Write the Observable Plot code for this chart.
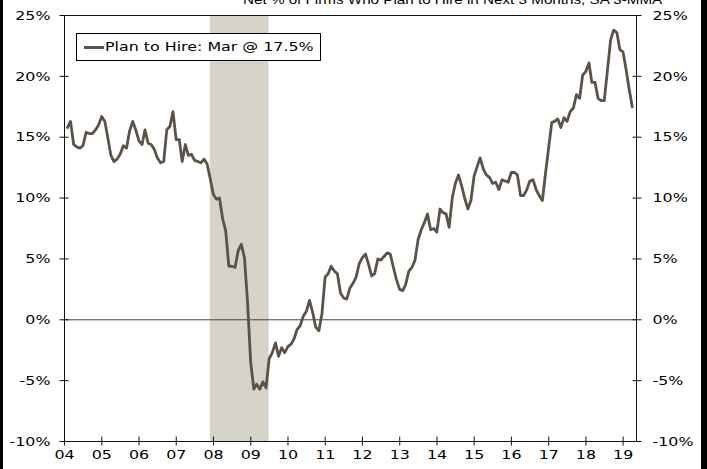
<!DOCTYPE html>
<html><head><meta charset="utf-8">
<script src="https://cdn.jsdelivr.net/npm/d3@7"></script>
<script src="https://cdn.jsdelivr.net/npm/@observablehq/plot@0.6"></script>
<style>
body{margin:0;background:#fff;}
#wrap{position:relative;width:707px;height:469px;overflow:hidden;background:#fff;font-family:"DejaVu Sans",Verdana,sans-serif;}
#chart{position:absolute;left:0;top:0;}
#title{position:absolute;left:243px;top:-8px;font-family:"Liberation Sans",Arial,sans-serif;font-size:13px;line-height:15px;color:#000;white-space:nowrap;transform:scaleX(1.17);transform-origin:0 0;}
#legend{position:absolute;left:76px;top:33px;width:243px;height:26px;border:1px solid #000;background:#fff;}
#legend .sw{position:absolute;left:7px;top:12px;width:20px;height:3px;background:#5d5247;}
#legend .tx{position:absolute;left:28px;top:4px;font-size:13px;line-height:18px;color:#000;white-space:nowrap;transform:scaleX(1.22);transform-origin:0 0;}
.bl{position:absolute;top:0;bottom:0;left:0;width:3px;background:#000;}
.br{position:absolute;top:0;bottom:0;right:0;width:6px;background:#000;}
</style></head>
<body>
<div id="wrap">
  <div id="chart"></div>
  <div id="title"></div>
  <div id="legend"><div class="sw"></div><div class="tx"></div></div>
  <div class="bl"></div><div class="br"></div>
</div>
<script>
const titleText = "Net % of Firms Who Plan to Hire in Next 3 Months, SA 3-MMA";
const legendText = "Plan to Hire: Mar @ 17.5%";
// Monthly, Jan 2004 .. Mar 2019 (net %, SA, 3-month moving average)
const planToHire = [
  15.8, 16.3, 14.4, 14.2, 14.1, 14.3, 15.4, 15.3, 15.3, 15.6, 16.0, 16.7, // 2004
  16.3, 15.0, 13.5, 13.0, 13.2, 13.6, 14.3, 14.1, 15.5, 16.3, 15.6, 14.7, // 2005
  14.4, 15.6, 14.5, 14.4, 14.0, 13.3, 12.9, 13.0, 15.6, 15.9, 17.1, 14.8, // 2006
  14.8, 13.0, 14.4, 13.5, 13.6, 13.1, 13.0, 12.9, 13.2, 12.8, 11.6, 10.3, // 2007
  9.9, 10.0, 8.3, 7.3, 4.4, 4.4, 4.3, 5.7, 6.2, 5.1, 1.5, -3.5,            // 2008
  -5.7, -5.3, -5.7, -5.1, -5.6, -3.2, -2.7, -1.9, -3.0, -2.3, -2.7, -2.2,  // 2009
  -2.0, -1.6, -0.8, -0.5, 0.3, 0.7, 1.6, 0.6, -0.6, -0.9, 0.5, 3.5,       // 2010
  3.8, 4.4, 4.0, 3.8, 2.2, 1.8, 1.7, 2.6, 3.0, 3.5, 4.6, 5.1,             // 2011
  5.4, 4.6, 3.6, 3.8, 5.0, 4.9, 5.2, 5.5, 5.4, 4.3, 3.3, 2.5,             // 2012
  2.4, 2.9, 4.0, 4.3, 4.9, 6.6, 7.4, 8.0, 8.7, 7.4, 7.5, 7.2,             // 2013
  9.1, 8.8, 8.7, 7.6, 10.0, 11.2, 11.9, 11.0, 10.0, 9.1, 9.8, 11.8,       // 2014
  12.6, 13.3, 12.4, 11.9, 11.7, 11.2, 11.3, 10.7, 11.5, 11.4, 11.3, 12.1, // 2015
  12.1, 11.9, 10.2, 10.2, 10.7, 11.4, 11.5, 10.7, 10.2, 9.8, 12.0, 14.1,  // 2016
  16.2, 16.3, 16.5, 15.8, 16.6, 16.3, 17.1, 17.4, 18.5, 18.2, 20.1, 20.4, // 2017
  21.1, 19.5, 19.5, 18.2, 18.0, 18.0, 20.5, 23.0, 23.8, 23.6, 22.2, 22.0, // 2018
  20.5, 19.0, 17.5                                                        // 2019
];
const recessionStart = ["2007-12-01"];
const recessionEnd = ["2009-06-30"];
const yTicks = [-10, -5, 0, 5, 10, 15, 20, 25];
const yDomain = [-10, 25];
const xTickYears = [2004, 2005, 2006, 2007, 2008, 2009, 2010, 2011, 2012, 2013, 2014, 2015, 2016, 2017, 2018, 2019];
const xTickLabels = ["04","05","06","07","08","09","10","11","12","13","14","15","16","17","18","19"];
const xStart = "2004-01-01", xEnd = "2019-05-12";

document.getElementById("title").textContent = titleText;
document.querySelector("#legend .tx").textContent = legendText;

const series = planToHire.map((v, i) => ({date: new Date(Date.UTC(2004, i + 1, 0)), value: v}));
const recessions = recessionStart.map((s, i) => ({start: new Date(s), end: new Date(recessionEnd[i])}));
const xTicks = xTickYears.map(y => new Date(Date.UTC(y, 0, 1)));
const labelOf = d => xTickLabels[xTickYears.indexOf(d.getUTCFullYear())];
const pct = d => d + "%";

const lineColor = "#5d5247";
const axisColor = "#111";

const chart = Plot.plot({
  width: 707, height: 469,
  marginLeft: 64, marginRight: 71, marginTop: 15, marginBottom: 28,
  x: {type: "utc", domain: [new Date(xStart), new Date(xEnd)]},
  y: {domain: yDomain},
  style: {fontFamily: "'DejaVu Sans', Verdana, sans-serif", fontSize: "13px", color: "#000", background: "transparent", overflow: "visible"},
  marks: [
    Plot.rect(recessions, {x1: "start", x2: "end", fill: "#d6d3c8"}),
    Plot.ruleY([0], {stroke: "#444", strokeWidth: 1}),
    Plot.lineY(series, {x: "date", y: "value", stroke: lineColor, strokeWidth: 2.8, strokeLinejoin: "round"}),
    Plot.frame({stroke: axisColor, strokeWidth: 1}),
    // left axis: labels + crossing ticks
    Plot.axisY(yTicks, {anchor: "left", tickSize: 0, tickPadding: 14, tickFormat: pct, label: null, fill: "#000"}),
    Plot.axisY(yTicks, {anchor: "left", tickSize: 9, dx: 4.5, tickFormat: () => "", label: null, stroke: axisColor}),
    // right axis
    Plot.axisY(yTicks, {anchor: "right", tickSize: 0, tickPadding: 16, tickFormat: pct, label: null, fill: "#000"}),
    Plot.axisY(yTicks, {anchor: "right", tickSize: 9, dx: -4.5, tickFormat: () => "", label: null, stroke: axisColor}),
    // bottom axis
    Plot.axisX(xTicks, {anchor: "bottom", tickSize: 0, tickPadding: 8, tickFormat: labelOf, label: null, fill: "#000"}),
    Plot.axisX(xTicks, {anchor: "bottom", tickSize: 9, dy: -4.5, tickFormat: () => "", label: null, stroke: axisColor})
  ]
});
// widen the axis labels horizontally, as in the reference
const stretch = 1.22;
chart.querySelectorAll("text").forEach(t => {
  if (!t.textContent) return;
  const x = +(t.getAttribute("x") || 0);
  const tr = t.getAttribute("transform") || "";
  t.setAttribute("x", 0);
  t.setAttribute("transform", `${tr} translate(${x},0) scale(${stretch},1)`);
});
document.getElementById("chart").appendChild(chart);
</script>
</body></html>
